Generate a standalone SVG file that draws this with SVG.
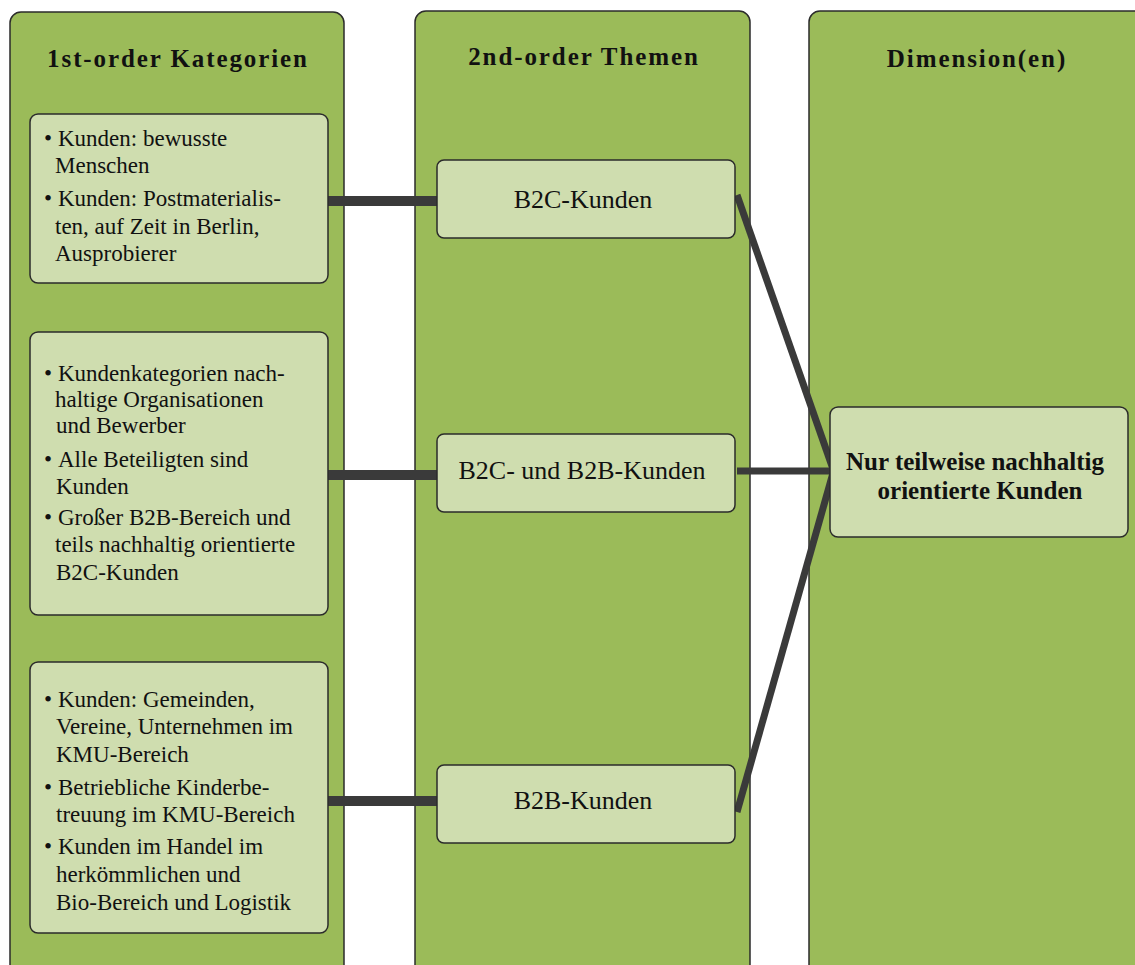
<svg xmlns="http://www.w3.org/2000/svg" width="1135" height="965" viewBox="0 0 1135 965">
<style>
.col{fill:#9BBB59;stroke:#2b2b2b;stroke-width:1.5}
.box{fill:#CFDDAF;stroke:#2b2b2b;stroke-width:1.5}
.title{font-family:"Liberation Serif","Times New Roman",serif;font-weight:bold;font-size:25px;letter-spacing:1.9px;fill:#111;text-anchor:middle}
.body{font-family:"Liberation Serif","Times New Roman",serif;font-size:23px;fill:#111}
.mid{font-family:"Liberation Serif","Times New Roman",serif;font-size:26px;fill:#111;text-anchor:middle}
.dim{font-family:"Liberation Serif","Times New Roman",serif;font-weight:bold;font-size:25px;fill:#111;text-anchor:middle}
.thick{stroke:#3a3a3a;stroke-width:10;fill:none}
.thin{stroke:#3a3a3a;stroke-width:7;fill:none}
</style>
<rect width="1135" height="965" fill="#ffffff"/>
<g id="col-1st-order">
<rect class="col" x="10" y="12" width="334" height="980" rx="11"/>
<text class="title" x="178" y="67">1st-order Kategorien</text>
</g>
<g id="col-2nd-order">
<rect class="col" x="415" y="11" width="335" height="980" rx="11"/>
<text class="title" x="584" y="65">2nd-order Themen</text>
</g>
<g id="col-dimension">
<rect class="col" x="809" y="11" width="345" height="980" rx="11"/>
<text class="title" x="977" y="67">Dimension(en)</text>
</g>
<g id="connectors">
<line class="thick" x1="328" y1="201" x2="437" y2="201"/>
<line class="thick" x1="328" y1="475" x2="437" y2="475"/>
<line class="thick" x1="328" y1="801" x2="437" y2="801"/>
<line class="thin" x1="737" y1="195" x2="833" y2="469"/>
<line class="thin" x1="737" y1="471" x2="833" y2="471"/>
<line class="thin" x1="833" y1="473" x2="737" y2="812"/>
</g>
<g id="cat-1">
<rect class="box" x="30" y="114" width="298" height="169" rx="8"/>
<text class="body" x="44" y="146">•</text>
<text class="body" x="58" y="146">Kunden: bewusste</text>
<text class="body" x="55" y="173">Menschen</text>
<text class="body" x="44" y="206">•</text>
<text class="body" x="58" y="206">Kunden: Postmaterialis-</text>
<text class="body" x="55" y="234">ten, auf Zeit in Berlin,</text>
<text class="body" x="55" y="261">Ausprobierer</text>
</g>
<g id="cat-2">
<rect class="box" x="30" y="332" width="298" height="283" rx="8"/>
<text class="body" x="44" y="381">•</text>
<text class="body" x="58" y="381">Kundenkategorien nach-</text>
<text class="body" x="55" y="407">haltige Organisationen</text>
<text class="body" x="56" y="433">und Bewerber</text>
<text class="body" x="44" y="467">•</text>
<text class="body" x="58" y="467">Alle Beteiligten sind</text>
<text class="body" x="56" y="494">Kunden</text>
<text class="body" x="44" y="525">•</text>
<text class="body" x="58" y="525">Großer B2B-Bereich und</text>
<text class="body" x="55" y="552">teils nachhaltig orientierte</text>
<text class="body" x="56" y="580">B2C-Kunden</text>
</g>
<g id="cat-3">
<rect class="box" x="30" y="662" width="298" height="271" rx="8"/>
<text class="body" x="44" y="707">•</text>
<text class="body" x="58" y="707">Kunden: Gemeinden,</text>
<text class="body" x="56" y="734">Vereine, Unternehmen im</text>
<text class="body" x="56" y="762">KMU-Bereich</text>
<text class="body" x="44" y="795">•</text>
<text class="body" x="58" y="795">Betriebliche Kinderbe-</text>
<text class="body" x="56" y="822">treuung im KMU-Bereich</text>
<text class="body" x="44" y="854">•</text>
<text class="body" x="58" y="854">Kunden im Handel im</text>
<text class="body" x="56" y="882">herkömmlichen und</text>
<text class="body" x="56" y="910">Bio-Bereich und Logistik</text>
</g>
<g id="theme-b2c">
<rect class="box" x="437" y="160" width="298" height="78" rx="7"/>
<text class="mid" x="583" y="208">B2C-Kunden</text>
</g>
<g id="theme-b2c-b2b">
<rect class="box" x="437" y="434" width="298" height="78" rx="7"/>
<text class="mid" x="582" y="479">B2C- und B2B-Kunden</text>
</g>
<g id="theme-b2b">
<rect class="box" x="437" y="765" width="298" height="78" rx="7"/>
<text class="mid" x="583" y="809">B2B-Kunden</text>
</g>
<g id="dim-kunden">
<rect class="box" x="830" y="407" width="298" height="130" rx="8"/>
<text class="dim" x="975" y="470">Nur teilweise nachhaltig</text>
<text class="dim" x="980" y="499">orientierte Kunden</text>
</g>
</svg>
